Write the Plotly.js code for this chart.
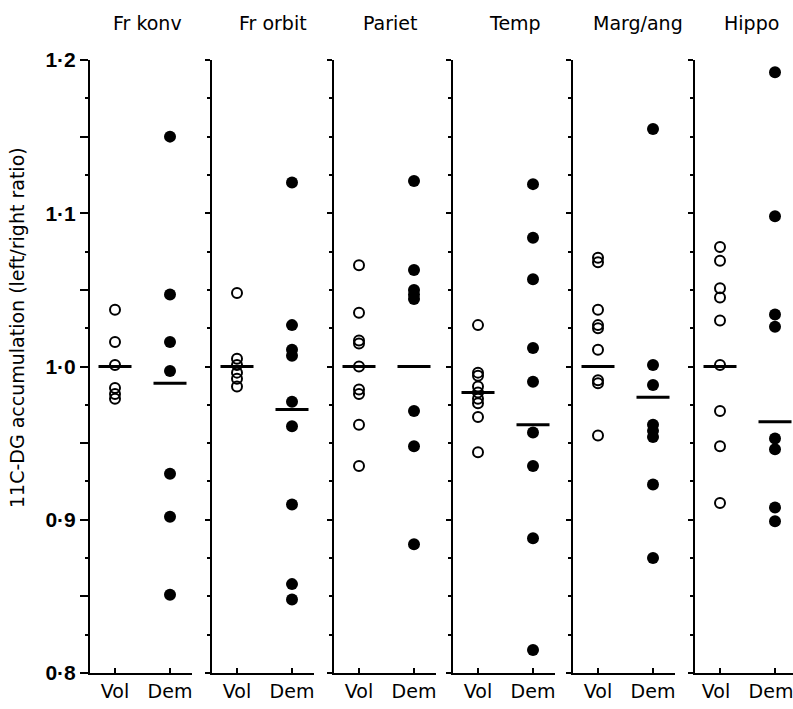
<!DOCTYPE html>
<html><head><meta charset="utf-8">
<script src="https://cdn.plot.ly/plotly-3.0.1.min.js"></script>
<style>html,body{margin:0;padding:0;background:#fff}</style>
</head><body><div id="chart" style="width:793px;height:709px"></div>
<script>
// ---- data ----
const regions = ['Fr konv', 'Fr orbit', 'Pariet', 'Temp', 'Marg/ang', 'Hippo'];
const groups = ['Vol', 'Dem'];

const volFrKonv = [1.037, 1.016, 1.001, 0.986, 0.982, 0.979];
const volFrOrbit = [1.048, 1.005, 1.001, 0.996, 0.992, 0.987];
const volPariet = [1.066, 1.035, 1.017, 1.015, 1.000, 0.985, 0.982, 0.962, 0.935];
const volTemp = [1.027, 0.996, 0.994, 0.987, 0.983, 0.979, 0.976, 0.967, 0.944];
const volMarg = [1.071, 1.068, 1.037, 1.027, 1.025, 1.011, 0.991, 0.989, 0.955];
const volHippo = [1.078, 1.069, 1.051, 1.045, 1.030, 1.001, 0.971, 0.948, 0.911];

const demFrKonv = [1.150, 1.047, 1.016, 0.997, 0.930, 0.902, 0.851];
const demFrOrbit = [1.120, 1.027, 1.011, 1.007, 0.977, 0.961, 0.910, 0.858, 0.848];
const demPariet = [1.121, 1.063, 1.050, 1.047, 1.044, 0.971, 0.948, 0.884];
const demTemp = [1.119, 1.084, 1.057, 1.012, 0.990, 0.957, 0.935, 0.888, 0.815];
const demMarg = [1.155, 1.001, 0.988, 0.962, 0.958, 0.954, 0.923, 0.875];
const demHippo = [1.192, 1.098, 1.034, 1.026, 0.953, 0.946, 0.908, 0.899];

const volMean = [1.000, 1.000, 1.000, 0.983, 1.000, 1.000];
const demMean = [0.989, 0.972, 1.000, 0.962, 0.980, 0.964];

const yTickVals = [0.8, 0.85, 0.9, 0.95, 1.0, 1.05, 1.1, 1.15, 1.2];
const yTickText = ['0·8', '', '0·9', '', '1·0', '', '1·1', '', '1·2'];
const yTitle = '11C-DG accumulation (left/right ratio)';

const volData = [volFrKonv, volFrOrbit, volPariet, volTemp, volMarg, volHippo];
const demData = [demFrKonv, demFrOrbit, demPariet, demTemp, demMarg, demHippo];

// ---- layout geometry (pixels) ----
const W = 793, H = 709;
const panelLeft = [90, 212, 334, 453, 573, 695];
const panelWidth = 102;
const catOffset = 25, catStep = 55;
const titleCenter = [147, 273, 390, 515, 638, 751];
const yTopPx = 60, yBotPx = 673;
const halfLine = 0.3;

const traces = [];
const layout = {
  width: W, height: H,
  margin: {l: 0, r: 0, t: 0, b: 0},
  paper_bgcolor: '#fff', plot_bgcolor: '#fff',
  showlegend: false,
  annotations: []
};

regions.forEach((name, i) => {
  const sfx = i === 0 ? '' : String(i + 1);
  const xa = 'x' + sfx, ya = 'y' + sfx;
  const left = panelLeft[i];
  const right = Math.min(left + panelWidth, W);
  const w = right - left;
  const last = i === regions.length - 1;

  traces.push({
    type: 'scatter', mode: 'markers', xaxis: xa, yaxis: ya,
    x: volData[i].map(() => 0), y: volData[i],
    marker: {symbol: 'circle-open', size: 10, color: '#000', line: {width: 2, color: '#000'}},
    hoverinfo: 'skip', cliponaxis: false
  });
  traces.push({
    type: 'scatter', mode: 'markers', xaxis: xa, yaxis: ya,
    x: demData[i].map(() => 1), y: demData[i],
    marker: {symbol: 'circle', size: 12, color: '#000'},
    hoverinfo: 'skip', cliponaxis: false
  });
  traces.push({
    type: 'scatter', mode: 'lines', xaxis: xa, yaxis: ya,
    x: [0 - halfLine, 0 + halfLine], y: [volMean[i], volMean[i]],
    line: {color: '#000', width: 3}, hoverinfo: 'skip'
  });
  traces.push({
    type: 'scatter', mode: 'lines', xaxis: xa, yaxis: ya,
    x: [1 - halfLine, 1 + halfLine], y: [demMean[i], demMean[i]],
    line: {color: '#000', width: 3}, hoverinfo: 'skip'
  });

  layout['xaxis' + sfx] = {
    domain: [left / W, right / W],
    anchor: ya,
    range: [-catOffset / catStep, (w - catOffset) / catStep],
    tickmode: 'array', tickvals: [0, 1], ticktext: groups,
    ticks: 'inside', ticklen: 5, tickwidth: 2, tickcolor: '#000',
    ticklabeloverflow: 'allow',
    ticklabelshift: last ? -4 : 0,
    showline: true, linewidth: 2, linecolor: '#000',
    showgrid: false, zeroline: false,
    tickfont: {family: 'DejaVu Sans, Arial, sans-serif', size: 19, color: '#000'},
    fixedrange: true
  };
  layout['yaxis' + sfx] = {
    domain: [1 - yBotPx / H, 1 - yTopPx / H],
    anchor: xa,
    range: [0.8, 1.2],
    tickmode: 'array', tickvals: yTickVals, ticktext: yTickText,
    showticklabels: i === 0,
    ticks: 'outside', ticklen: i === 0 ? 8 : 5, tickwidth: 2, tickcolor: '#000',
    minor: {dtick: 0.025, tick0: 0.8, ticks: 'outside', ticklen: 3, tickwidth: 2, tickcolor: '#000'},
    showline: true, linewidth: 2, linecolor: '#000',
    showgrid: false, zeroline: false,
    tickfont: {family: 'Liberation Sans, Arial, sans-serif', size: 21, color: '#000', weight: 'bold'},
    fixedrange: true
  };

  layout.annotations.push({
    xref: 'paper', yref: 'paper',
    x: titleCenter[i] / W, y: 1 - 23 / H,
    xanchor: 'center', yanchor: 'middle',
    text: name, showarrow: false,
    font: {family: 'DejaVu Sans, Arial, sans-serif', size: 19, color: '#000'}
  });
});

layout.annotations.push({
  xref: 'paper', yref: 'paper',
  x: 17 / W, y: 1 - 328 / H,
  xanchor: 'center', yanchor: 'middle',
  text: yTitle, textangle: -90, showarrow: false,
  font: {family: 'DejaVu Sans, Arial, sans-serif', size: 19, color: '#000'}
});

Plotly.newPlot('chart', traces, layout, {displayModeBar: false, staticPlot: true});
</script>
</body></html>
